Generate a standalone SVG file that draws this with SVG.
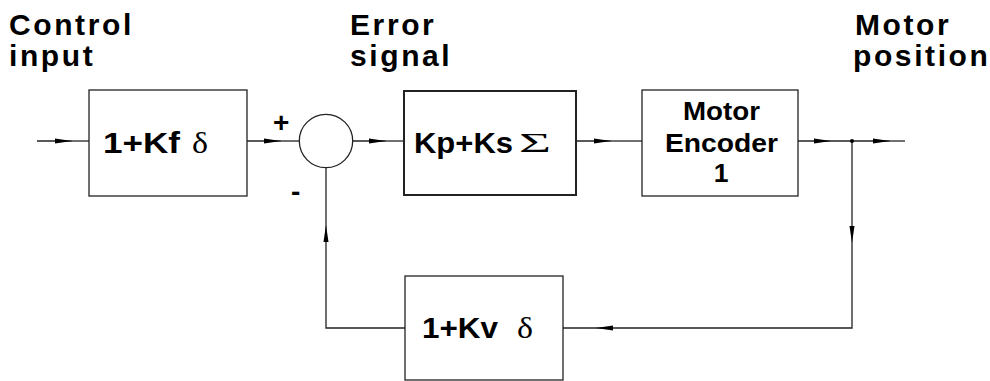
<svg xmlns="http://www.w3.org/2000/svg" width="990" height="381" viewBox="0 0 990 381">
<style>
.hd{font-family:"Liberation Sans",Arial,sans-serif;font-weight:bold;font-size:30px;letter-spacing:2.6px;fill:#000}
.bx{font-family:"Liberation Sans",Arial,sans-serif;font-weight:bold;font-size:29px;fill:#000}
.mb{font-family:"Liberation Sans",Arial,sans-serif;font-weight:bold;font-size:26.5px;fill:#000}
.sy{font-family:"Liberation Serif","Times New Roman",serif;font-weight:normal;font-size:30px;fill:#000}
.sg{font-family:"Liberation Sans",Arial,sans-serif;font-weight:bold;font-size:28px;fill:#000}
.box{fill:#fff;stroke:#222;stroke-width:1.3}
.ln{fill:none;stroke:#222;stroke-width:1.3}
</style>
<defs>
<marker id="ah" markerWidth="17" markerHeight="6" refX="17" refY="3" orient="auto" markerUnits="userSpaceOnUse">
<path d="M0,0.5 L17,3 L0,5.5 z" fill="#000"/>
</marker>
</defs>
<g id="labels">
<text class="hd" x="9" y="35">Control</text>
<text class="hd" x="9" y="66">input</text>
<text class="hd" x="350" y="35">Error</text>
<text class="hd" x="350" y="66">signal</text>
<text class="hd" x="855" y="35">Motor</text>
<text class="hd" x="853" y="66">position</text>
</g>
<g id="connectors">
<path class="ln" d="M37,141 H72" marker-end="url(#ah)"/>
<path class="ln" d="M72,141 H89"/>
<path class="ln" d="M247,141 H281" marker-end="url(#ah)"/>
<path class="ln" d="M281,141 H299"/>
<path class="ln" d="M353,141 H386" marker-end="url(#ah)"/>
<path class="ln" d="M386,141 H404"/>
<path class="ln" d="M576,141 H611" marker-end="url(#ah)"/>
<path class="ln" d="M611,141 H642"/>
<path class="ln" d="M798,141 H831" marker-end="url(#ah)"/>
<path class="ln" d="M831,141 H890" marker-end="url(#ah)"/>
<path class="ln" d="M890,141 H905"/>
<path class="ln" d="M852,141 V243" marker-end="url(#ah)"/>
<path class="ln" d="M852,243 V328 H596" marker-end="url(#ah)"/>
<path class="ln" d="M596,328 H563"/>
<path class="ln" d="M405,328 H326 V225" marker-end="url(#ah)"/>
<path class="ln" d="M326,225 V167.5"/>
<circle cx="852" cy="141" r="2" fill="#000"/>
<text class="sg" x="273" y="132">+</text>
<text class="sg" x="291" y="201">-</text>
</g>
<g id="sum">
<circle cx="326" cy="141" r="26.7" class="box"/>
</g>
<g id="feedforward">
<rect x="89" y="90" width="158" height="106" class="box"/>
<text class="bx" x="103" y="153" textLength="77" lengthAdjust="spacingAndGlyphs">1+Kf</text>
<text class="sy" x="192" y="153" textLength="16" lengthAdjust="spacingAndGlyphs">δ</text>
</g>
<g id="pid">
<rect x="404" y="91" width="172" height="104" class="box" style="stroke-width:2"/>
<text class="bx" x="414" y="153" textLength="99" lengthAdjust="spacingAndGlyphs">Kp+Ks</text>
<text class="sy" x="519" y="152" textLength="32" lengthAdjust="spacingAndGlyphs" style="font-size:28px">Σ</text>
</g>
<g id="motor">
<rect x="642" y="90" width="156" height="106" class="box"/>
<text class="mb" x="683" y="120" textLength="77" lengthAdjust="spacingAndGlyphs">Motor</text>
<text class="mb" x="665" y="151.5" textLength="113" lengthAdjust="spacingAndGlyphs">Encoder</text>
<text class="mb" x="721" y="181.5" text-anchor="middle">1</text>
</g>
<g id="velocity">
<rect x="405" y="276" width="158" height="104" class="box"/>
<text class="bx" x="422" y="337.5" textLength="76" lengthAdjust="spacingAndGlyphs">1+Kv</text>
<text class="sy" x="517" y="337.5" textLength="16" lengthAdjust="spacingAndGlyphs">δ</text>
</g>
</svg>
